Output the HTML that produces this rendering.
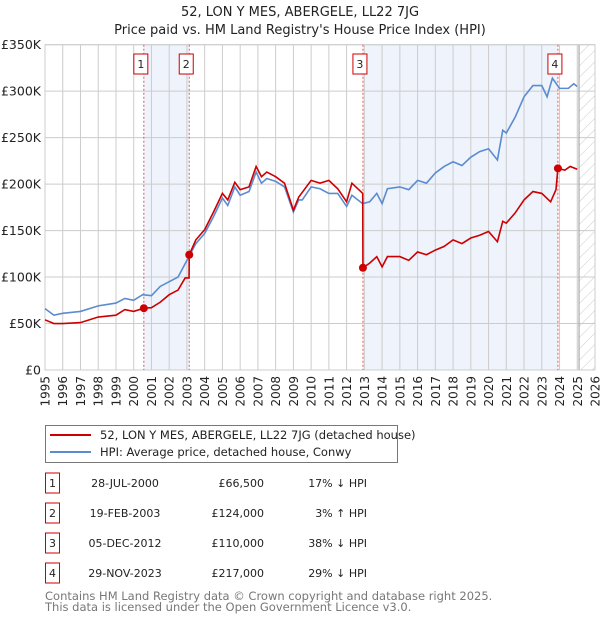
<!DOCTYPE html>
<html><head><meta charset="utf-8">
<style>
body{margin:0;background:#fff;font-family:"DejaVu Sans","Liberation Sans",sans-serif;}
svg text{font-family:"DejaVu Sans","Liberation Sans",sans-serif;}
</style></head>
<body>
<svg id="chart" width="600" height="620" viewBox="0 0 600 620" xmlns="http://www.w3.org/2000/svg">
<defs>
<pattern id="hatch" patternUnits="userSpaceOnUse" width="8" height="8" patternTransform="rotate(45)">
<line x1="0" y1="0" x2="0" y2="8" stroke="#ccc" stroke-width="1"/>
</pattern>
</defs>
<text x="300" y="16" text-anchor="middle" font-size="13" fill="#222">52, LON Y MES, ABERGELE, LL22 7JG</text>
<text x="300" y="34" text-anchor="middle" font-size="13" fill="#222">Price paid vs. HM Land Registry's House Price Index (HPI)</text>
<g id="plot"></g>
<g>
<rect x="45.5" y="425.5" width="352" height="37" fill="#fff" stroke="#777"/>
<line x1="50" y1="435" x2="91" y2="435" stroke="#cc0000" stroke-width="2"/>
<text x="100" y="439" font-size="11.5" fill="#222">52, LON Y MES, ABERGELE, LL22 7JG (detached house)</text>
<line x1="50" y1="452" x2="91" y2="452" stroke="#5b8bd0" stroke-width="2"/>
<text x="100" y="456" font-size="11.5" fill="#222">HPI: Average price, detached house, Conwy</text>
</g>
<g id="table"></g>
<text x="45" y="600" font-size="11.5" fill="#777">Contains HM Land Registry data © Crown copyright and database right 2025.</text>
<text x="45" y="611" font-size="11.5" fill="#777">This data is licensed under the Open Government Licence v3.0.</text>
</svg>
<script>
const hpiYears=[1995,1995.5,1996,1997,1998,1999,1999.5,2000,2000.5,2001,2001.5,2002,2002.5,2003,2003.5,2004,2004.5,2005,2005.3,2005.7,2006,2006.5,2006.9,2007.2,2007.5,2008,2008.5,2009,2009.3,2009.5,2010,2010.5,2011,2011.5,2012,2012.3,2012.9,2013.3,2013.7,2014,2014.3,2015,2015.5,2016,2016.5,2017,2017.5,2018,2018.5,2019,2019.5,2020,2020.5,2020.8,2021,2021.5,2022,2022.5,2023,2023.3,2023.6,2024,2024.5,2024.8,2025];
const hpiValues=[66,59,61,63,69,72,77,75,81,80,90,95,100,118,136,147,165,185,177,197,188,192,213,201,206,203,197,170,183,183,197,195,190,190,176,188,179,181,190,179,195,197,194,204,201,212,219,224,220,229,235,238,226,258,255,272,294,306,306,294,314,303,303,308,305];
const priceYears=[1995,1995.5,1996,1997,1998,1999,1999.5,2000,2000.57,2001,2001.5,2002,2002.5,2002.9,2003.12,2003.13,2003.5,2004,2004.5,2005,2005.3,2005.7,2006,2006.5,2006.9,2007.2,2007.5,2008,2008.5,2009,2009.3,2010,2010.5,2011,2011.5,2012,2012.3,2012.91,2012.92,2013.3,2013.7,2014,2014.3,2015,2015.5,2016,2016.5,2017,2017.5,2018,2018.5,2019,2019.5,2020,2020.5,2020.8,2021,2021.5,2022,2022.5,2023,2023.5,2023.8,2023.91,2024.3,2024.6,2025];
const priceValues=[54,50,50,51,57,59,65,63,66.5,67,73,81,86,99,99,124,140,151,170,190,183,202,194,197,219,208,213,208,201,172,186,204,201,204,195,181,201,190,110,115,122,111,122,122,118,127,124,129,133,140,136,142,145,149,138,160,158,169,183,192,190,181,194,217,215,219,216];
const saleLabels=["1","2","3","4"];
const saleYears=[2000.57,2003.13,2012.92,2023.91];
const saleValues=[66.5,124,110,217];
const saleDates=["28-JUL-2000","19-FEB-2003","05-DEC-2012","29-NOV-2023"];
const salePrices=["£66,500","£124,000","£110,000","£217,000"];
const saleHpi=["17% ↓ HPI","3% ↑ HPI","38% ↓ HPI","29% ↓ HPI"];
const yTicks=[0,50,100,150,200,250,300,350];
const yTickLabels=["£0","£50K","£100K","£150K","£200K","£250K","£300K","£350K"];
const xTicks=[1995,1996,1997,1998,1999,2000,2001,2002,2003,2004,2005,2006,2007,2008,2009,2010,2011,2012,2013,2014,2015,2016,2017,2018,2019,2020,2021,2022,2023,2024,2025,2026];

const L=45,R=595,T=44.7,B=370;
const x=v=>L+(v-1995)/(2026-1995)*(R-L);
const y=v=>B-v/350*(B-T);
const NS="http://www.w3.org/2000/svg";
const plot=document.getElementById('plot');
function mk(tag,attrs,parent,txt){const e=document.createElementNS(NS,tag);for(const k in attrs)e.setAttribute(k,attrs[k]);if(txt!==undefined)e.textContent=txt;(parent||plot).appendChild(e);return e;}

let s=mk('rect',{x:x(saleYears[0]),y:T,width:x(saleYears[1])-x(saleYears[0]),height:B-T,fill:'#eef3fc'});


s=mk('rect',{x:x(saleYears[2]),y:T,width:x(saleYears[3])-x(saleYears[2]),height:B-T,fill:'#eef3fc'});


s=mk('rect',{x:x(2025.1),y:T,width:R-x(2025.1),height:B-T,fill:'url(#hatch)'});



xTicks.forEach(t=>{const g=mk('line',{x1:x(t),x2:x(t),y1:T,y2:B,stroke:'#ccc','stroke-width':1});


const lb=mk('text',{x:0,y:0,transform:`translate(${x(t)+4.5},${B+6}) rotate(-90)`,'text-anchor':'end','font-size':12,fill:'#222'},null,String(t));

});
yTicks.forEach((t,i)=>{const g=mk('line',{x1:L,x2:R,y1:y(t),y2:y(t),stroke:'#ccc','stroke-width':1});


const lb=mk('text',{x:L-4,y:y(t)+4.5,'text-anchor':'end','font-size':12.5,fill:'#222'},null,yTickLabels[i]);

});
let ln=mk('line',{x1:x(2025.1),x2:x(2025.1),y1:T,y2:B,stroke:'#999','stroke-width':1});


let fr=mk('rect',{x:L,y:T,width:R-L,height:B-T,fill:'none',stroke:'#ccc'});



saleYears.forEach((yr,i)=>{const v=mk('line',{x1:x(yr),x2:x(yr),y1:T,y2:B,stroke:'#ee5555','stroke-width':1,'stroke-dasharray':'2,2'});


const b=mk('rect',{x:x(yr)-10,y:54,width:14,height:20,fill:'#fff',stroke:'#cc0000'});


const t=mk('text',{x:x(yr)-3,y:68,'text-anchor':'middle','font-size':11,fill:'#222'},null,saleLabels[i]);

});

const hp=mk('polyline',{points:hpiYears.map((t,i)=>x(t)+','+y(hpiValues[i])).join(' '),fill:'none',stroke:'#5b8bd0','stroke-width':1.6});


const pp=mk('polyline',{points:priceYears.map((t,i)=>x(t)+','+y(priceValues[i])).join(' '),fill:'none',stroke:'#cc0000','stroke-width':1.6});


saleYears.forEach((yr,i)=>{const c=mk('circle',{cx:x(yr),cy:y(saleValues[i]),r:4,fill:'#cc0000'});

});

const tb=document.getElementById('table');
saleLabels.forEach((l,i)=>{const cy=483+i*30;
const b=mk('rect',{x:45.5,y:cy-10,width:14,height:20,fill:'#fff',stroke:'#cc0000'},tb);


const n=mk('text',{x:52.5,y:cy+4,'text-anchor':'middle','font-size':11,fill:'#222'},tb,l);


const d=mk('text',{x:125,y:cy+4,'text-anchor':'middle','font-size':11,fill:'#222'},tb,saleDates[i]);


const p=mk('text',{x:264,y:cy+4,'text-anchor':'end','font-size':11,fill:'#222'},tb,salePrices[i]);


const h=mk('text',{x:367,y:cy+4,'text-anchor':'end','font-size':11,fill:'#222'},tb,saleHpi[i]);

});
</script>
</body></html>
